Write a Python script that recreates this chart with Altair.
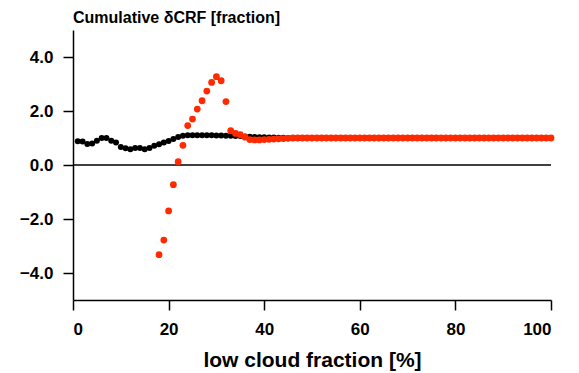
import altair as alt
import pandas as pd

# Black series (x = 1..100)
black_x = list(range(1, 101))
black_head = [0.88, 0.87, 0.78, 0.80, 0.90, 1.00, 1.00, 0.90, 0.83, 0.67,
              0.62, 0.58, 0.63, 0.63, 0.58, 0.63, 0.71, 0.77, 0.83, 0.89,
              0.96, 1.04, 1.08, 1.10, 1.10, 1.10, 1.10, 1.10, 1.10, 1.09,
              1.09, 1.08, 1.08, 1.07, 1.07, 1.06, 1.05, 1.04, 1.03, 1.03,
              1.02, 1.02, 1.01, 1.01]
black_y = black_head + [1.00] * (100 - len(black_head))

# Red series (x = 18..100)
red_x = list(range(18, 101))
red_head = [-3.32, -2.78, -1.70, -0.73, 0.12, 0.73, 1.46, 1.70, 2.07, 2.38,
            2.74, 3.06, 3.27, 3.12, 2.35, 1.27, 1.17, 1.12, 1.03, 0.94,
            0.93, 0.93, 0.94, 0.95, 0.96, 0.97, 0.98, 0.99]
red_y = red_head + [1.00] * (len(red_x) - len(red_head))

x_ticks = [0, 20, 40, 60, 80, 100]
y_ticks = [-4, -2, 0, 2, 4]
title_text = ["Cumulative δCRF [fraction]"]

black_df = pd.DataFrame({"x": black_x, "y": black_y})
red_df = pd.DataFrame({"x": red_x, "y": red_y})
zero_df = pd.DataFrame({"y": [0]})
title_df = pd.DataFrame({"t": title_text})

FONT = "Liberation Sans"

xscale = alt.Scale(domain=[0, 100], nice=False, zero=False)
yscale = alt.Scale(domain=[-5, 5], nice=False, zero=False)

xaxis = alt.Axis(values=x_ticks, title="low cloud fraction [%]", grid=False,
                 labelFont=FONT, labelFontSize=17, labelFontWeight="bold",
                 labelColor="black", labelPadding=11,
                 titleFont=FONT, titleFontSize=21, titleFontWeight="bold",
                 titleColor="black", titlePadding=12,
                 tickSize=10, tickColor="black", tickWidth=1.5,
                 domainColor="black", domainWidth=1.5)
yaxis = alt.Axis(values=y_ticks, format=".1f", title=None, grid=False,
                 labelFont=FONT, labelFontSize=17, labelFontWeight="bold",
                 labelColor="black", labelPadding=10,
                 tickSize=10, tickColor="black", tickWidth=1.5,
                 domainColor="black", domainWidth=1.5)

zero = alt.Chart(zero_df).mark_rule(color="black", strokeWidth=1.5).encode(
    y=alt.Y("y:Q", scale=yscale, axis=yaxis)
)

black = alt.Chart(black_df).mark_circle(color="black", size=36, opacity=1).encode(
    x=alt.X("x:Q", scale=xscale, axis=xaxis),
    y=alt.Y("y:Q", scale=yscale, axis=yaxis),
)

red = alt.Chart(red_df).mark_circle(color="#ff2a00", size=46, opacity=1).encode(
    x=alt.X("x:Q", scale=xscale, axis=xaxis),
    y=alt.Y("y:Q", scale=yscale, axis=yaxis),
)

title = alt.Chart(title_df).mark_text(
    align="left", baseline="alphabetic", font=FONT, fontSize=16,
    fontWeight="bold", color="black",
).encode(x=alt.value(0), y=alt.value(-7), text="t:N")

chart = alt.layer(zero, black, red, title).properties(
    width=478,
    height=270,
    background="white",
    autosize=alt.AutoSizeParams(type="none"),
    padding={"left": 73, "top": 30, "right": 28, "bottom": 73},
).configure_view(stroke="transparent", strokeWidth=0)

chart.save("out.html", embed_options={"renderer": "svg", "actions": False})
